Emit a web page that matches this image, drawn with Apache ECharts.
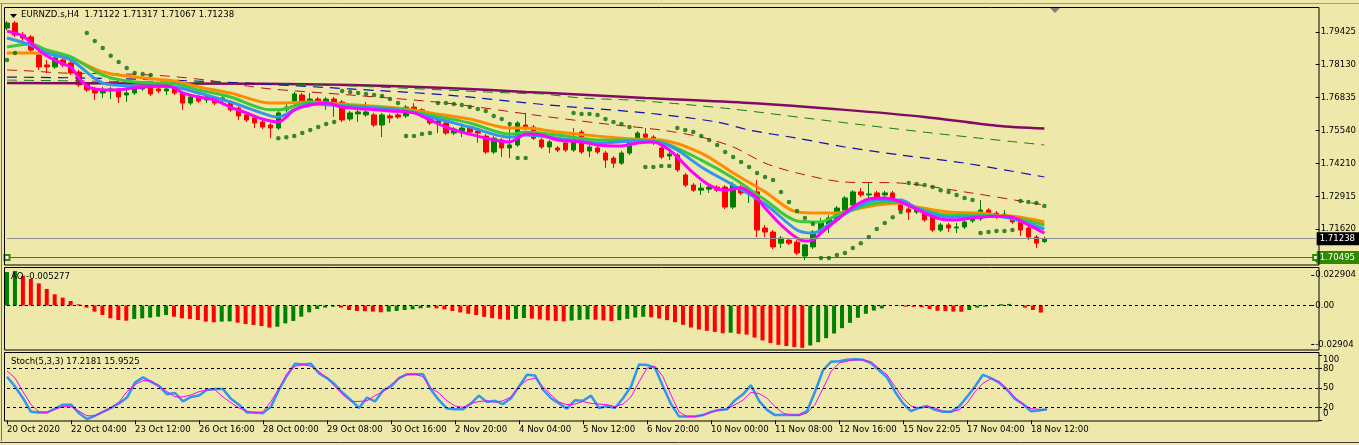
<!DOCTYPE html>
<html><head><meta charset="utf-8">
<script src="https://cdn.jsdelivr.net/npm/echarts@6/dist/echarts.min.js"></script>
<style>html,body{margin:0;padding:0;background:#EEE8AA;overflow:hidden}#c{width:1359px;height:445px;}</style>
</head><body><div id="c"></div>
<script>
const FONT = '"DejaVu Sans Condensed","Liberation Sans",sans-serif';
const slotCount = 165;
const tickEvery = 8;
const tickLabels = ['20 Oct 2020','22 Oct 04:00','23 Oct 12:00','26 Oct 16:00','28 Oct 00:00','29 Oct 08:00','30 Oct 16:00','2 Nov 20:00','4 Nov 04:00','5 Nov 12:00','6 Nov 20:00','10 Nov 00:00','11 Nov 08:00','12 Nov 16:00','15 Nov 22:05','17 Nov 04:00','18 Nov 12:00'];
const priceTicks = [1.79425,1.78130,1.76835,1.75540,1.74210,1.72915,1.71620,1.70325];
const aoTicks = [0.022904,0,-0.02904];
const aoTickLabels = ['0.022904','0.00','-0.02904'];
const stochTicks = [0,20,50,80,100];
const stochLevels = [20,50,80];
// MT4 pushes the extreme labels (0 and 100) inside the window: label anchors
const stochEdgeAt = [11,93];
const stochEdgeText = ['0','100'];

const opens = [1.7958,1.7978,1.7931,1.7923,1.7851,1.7812,1.7804,1.7832,1.7820,1.7784,1.7737,1.7717,1.7701,1.7709,1.7713,1.7693,1.7701,1.7717,1.7721,1.7717,1.7709,1.7721,1.7701,1.7661,1.7685,1.7673,1.7681,1.7673,1.7665,1.7641,1.7614,1.7602,1.7586,1.7574,1.7562,1.7634,1.7661,1.7693,1.7665,1.7677,1.7661,1.7677,1.7665,1.7598,1.7618,1.7614,1.7614,1.7574,1.7610,1.7614,1.7610,1.7645,1.7634,1.7610,1.7582,1.7582,1.7542,1.7550,1.7562,1.7550,1.7530,1.7467,1.7515,1.7483,1.7495,1.7574,1.7566,1.7515,1.7487,1.7483,1.7503,1.7475,1.7546,1.7471,1.7483,1.7463,1.7443,1.7423,1.7463,1.7507,1.7538,1.7526,1.7483,1.7451,1.7455,1.7376,1.7336,1.7316,1.7320,1.7328,1.7328,1.7249,1.7328,1.7305,1.7309,1.7166,1.7150,1.7106,1.7118,1.7110,1.7055,1.7091,1.7150,1.7182,1.7198,1.7237,1.7257,1.7309,1.7297,1.7305,1.7297,1.7305,1.7269,1.7241,1.7229,1.7229,1.7217,1.7158,1.7178,1.7166,1.7170,1.7194,1.7202,1.7237,1.7225,1.7213,1.7206,1.7190,1.7166,1.7130,1.71122];
const highs = [1.7986,1.7986,1.7943,1.7931,1.7859,1.7832,1.7848,1.7840,1.7828,1.7792,1.7744,1.7725,1.7725,1.7725,1.7721,1.7725,1.7729,1.7733,1.7729,1.7725,1.7729,1.7729,1.7709,1.7693,1.7693,1.7693,1.7689,1.7689,1.7673,1.7649,1.7622,1.7610,1.7594,1.7582,1.7630,1.7657,1.7705,1.7701,1.7701,1.7685,1.7685,1.7685,1.7673,1.7630,1.7634,1.7665,1.7622,1.7622,1.7618,1.7622,1.7653,1.7661,1.7641,1.7618,1.7598,1.7590,1.7566,1.7570,1.7570,1.7558,1.7538,1.7530,1.7522,1.7586,1.7590,1.7622,1.7574,1.7522,1.7515,1.7491,1.7511,1.7562,1.7554,1.7495,1.7491,1.7471,1.7451,1.7471,1.7511,1.7550,1.7562,1.7534,1.7491,1.7475,1.7463,1.7384,1.7344,1.7344,1.7336,1.7336,1.7336,1.7348,1.7336,1.7328,1.7356,1.7178,1.7158,1.7134,1.7126,1.7118,1.7103,1.7158,1.7206,1.7217,1.7253,1.7293,1.7316,1.7324,1.7344,1.7313,1.7313,1.7313,1.7277,1.7249,1.7245,1.7237,1.7225,1.7186,1.7186,1.7186,1.7198,1.7209,1.7277,1.7245,1.7233,1.7237,1.7213,1.7198,1.7198,1.7138,1.71317];
const lows = [1.7950,1.7923,1.7903,1.7863,1.7792,1.7780,1.7796,1.7804,1.7772,1.7725,1.7705,1.7673,1.7681,1.7677,1.7661,1.7665,1.7693,1.7709,1.7689,1.7701,1.7693,1.7693,1.7634,1.7653,1.7661,1.7661,1.7653,1.7665,1.7626,1.7594,1.7586,1.7562,1.7558,1.7522,1.7554,1.7626,1.7653,1.7657,1.7657,1.7653,1.7634,1.7606,1.7586,1.7590,1.7586,1.7606,1.7566,1.7526,1.7582,1.7598,1.7602,1.7626,1.7602,1.7574,1.7542,1.7534,1.7534,1.7526,1.7538,1.7503,1.7459,1.7459,1.7447,1.7443,1.7487,1.7554,1.7515,1.7479,1.7463,1.7467,1.7467,1.7467,1.7459,1.7447,1.7459,1.7404,1.7404,1.7416,1.7455,1.7499,1.7518,1.7495,1.7439,1.7435,1.7388,1.7328,1.7309,1.7297,1.7305,1.7309,1.7241,1.7241,1.7297,1.7265,1.7130,1.7130,1.7083,1.7087,1.7099,1.7059,1.7039,1.7083,1.7142,1.7146,1.7190,1.7229,1.7249,1.7289,1.7285,1.7281,1.7289,1.7269,1.7229,1.7198,1.7221,1.7190,1.7150,1.7150,1.7150,1.7146,1.7162,1.7186,1.7194,1.7217,1.7202,1.7206,1.7182,1.7134,1.7118,1.7087,1.71067];
const closes = [1.7978,1.7931,1.7919,1.7871,1.7804,1.7804,1.7840,1.7812,1.7780,1.7733,1.7713,1.7701,1.7709,1.7717,1.7685,1.7701,1.7721,1.7725,1.7697,1.7709,1.7717,1.7701,1.7661,1.7685,1.7669,1.7685,1.7661,1.7681,1.7634,1.7610,1.7594,1.7582,1.7566,1.7562,1.7622,1.7645,1.7697,1.7665,1.7677,1.7661,1.7677,1.7661,1.7594,1.7622,1.7626,1.7626,1.7574,1.7614,1.7602,1.7606,1.7645,1.7634,1.7610,1.7582,1.7590,1.7542,1.7558,1.7562,1.7546,1.7542,1.7467,1.7522,1.7483,1.7495,1.7582,1.7562,1.7522,1.7487,1.7507,1.7475,1.7475,1.7515,1.7467,1.7487,1.7467,1.7435,1.7423,1.7463,1.7503,1.7542,1.7526,1.7503,1.7447,1.7459,1.7396,1.7336,1.7316,1.7324,1.7328,1.7316,1.7249,1.7336,1.7305,1.7316,1.7158,1.7150,1.7091,1.7126,1.7106,1.7067,1.7099,1.7150,1.7186,1.7206,1.7245,1.7285,1.7309,1.7297,1.7301,1.7289,1.7305,1.7277,1.7237,1.7229,1.7237,1.7198,1.7158,1.7178,1.7166,1.7170,1.7190,1.7202,1.7237,1.7225,1.7209,1.7221,1.7190,1.7158,1.7130,1.7106,1.71238];

const sar = [1.7832,1.7859,null,null,null,null,null,null,null,null,
1.7939,1.7907,1.7879,1.7848,1.7824,1.7800,1.7780,1.7776,1.7772,null,
null,null,null,null,null,null,null,null,null,null,
null,null,null,null,1.7522,1.7526,1.7530,1.7542,1.7554,1.7566,
1.7578,1.7586,1.7709,1.7705,1.7701,1.7697,1.7693,1.7689,1.7677,1.7661,
1.7530,1.7530,1.7538,1.7542,1.7661,1.7661,1.7657,1.7653,1.7645,1.7637,
1.7630,1.7610,1.7598,1.7578,1.7443,1.7443,null,null,null,null,
null,1.7622,1.7618,1.7618,1.7614,1.7598,1.7586,1.7578,1.7566,null,
1.7408,1.7408,1.7412,1.7412,1.7562,1.7554,1.7546,1.7530,1.7515,1.7495,
1.7467,1.7447,1.7427,1.7408,1.7384,1.7368,1.7356,1.7309,1.7269,1.7233,
1.7206,1.7182,1.7047,1.7047,1.7059,1.7067,1.7087,1.7106,1.7130,1.7162,
1.7186,1.7209,1.7229,1.7344,1.7340,1.7336,1.7328,1.7316,1.7309,1.7297,
1.7285,1.7277,1.7146,1.7150,1.7154,1.7154,1.7158,1.7273,1.7269,1.7265,
1.7253];

const maMagenta = [[0,1.7946],[2,1.7927],[3,1.7899],[4,1.7871],[5,1.7848],[7,1.7816],[8,1.7804],[9,1.7760],[10,1.7729],[11,1.7717],[13,1.7713],[15,1.7717],[17,1.7725],[20,1.7729],[21,1.7721],[22,1.7701],[24,1.7685],[26,1.7673],[28,1.7645],[30,1.7622],[32,1.7598],[34,1.7586],[35,1.7606],[36,1.7634],[38,1.7653],[40,1.7661],[42,1.7645],[45,1.7637],[48,1.7630],[51,1.7622],[53,1.7594],[55,1.7566],[57,1.7546],[59,1.7530],[61,1.7515],[63,1.7507],[64,1.7522],[65,1.7538],[67,1.7534],[69,1.7515],[72,1.7507],[74,1.7495],[77,1.7491],[79,1.7503],[81,1.7507],[83,1.7475],[84,1.7447],[86,1.7384],[88,1.7336],[90,1.7316],[92,1.7324],[93,1.7309],[94,1.7285],[95,1.7245],[97,1.7178],[99,1.7126],[100,1.7114],[101,1.7118],[102,1.7146],[104,1.7198],[106,1.7249],[108,1.7281],[110,1.7285],[112,1.7269],[115,1.7225],[117,1.7202],[119,1.7198],[121,1.7206],[124,1.7213],[126,1.7209],[128,1.7178],[130,1.7146]];
const maBlue = [[0,1.7919],[3,1.7891],[5,1.7859],[8,1.7832],[12,1.7740],[16,1.7729],[21,1.7725],[24,1.7701],[28,1.7665],[33,1.7610],[34,1.7606],[36,1.7634],[38,1.7657],[42,1.7649],[49,1.7634],[53,1.7606],[58,1.7566],[63,1.7526],[65,1.7534],[69,1.7522],[74,1.7503],[79,1.7511],[82,1.7503],[84,1.7475],[87,1.7408],[91,1.7336],[95,1.7261],[99,1.7158],[101,1.7146],[102,1.7158],[104,1.7202],[107,1.7257],[109,1.7277],[112,1.7277],[114,1.7245],[118,1.7209],[122,1.7213],[124,1.7213],[127,1.7194],[130,1.7162]];
const maGreen = [[0,1.7883],[3,1.7895],[5,1.7871],[8,1.7844],[12,1.7772],[16,1.7744],[21,1.7737],[24,1.7713],[28,1.7685],[33,1.7634],[34,1.7634],[38,1.7665],[42,1.7653],[49,1.7637],[53,1.7614],[58,1.7582],[63,1.7538],[65,1.7546],[69,1.7534],[74,1.7515],[79,1.7515],[82,1.7507],[87,1.7435],[91,1.7364],[95,1.7277],[99,1.7194],[102,1.7190],[104,1.7217],[107,1.7249],[109,1.7265],[112,1.7269],[114,1.7245],[118,1.7217],[122,1.7217],[124,1.7213],[127,1.7202],[130,1.7178]];
const maOrange = [[0,1.7859],[3,1.7859],[5,1.7859],[8,1.7840],[12,1.7784],[16,1.7764],[21,1.7748],[24,1.7725],[28,1.7701],[33,1.7661],[34,1.7661],[38,1.7665],[42,1.7657],[49,1.7641],[53,1.7622],[58,1.7598],[63,1.7562],[65,1.7562],[69,1.7546],[74,1.7530],[79,1.7518],[82,1.7515],[87,1.7463],[91,1.7384],[95,1.7309],[99,1.7229],[102,1.7225],[104,1.7225],[107,1.7245],[109,1.7257],[112,1.7265],[114,1.7249],[118,1.7229],[122,1.7225],[124,1.7217],[127,1.7209],[130,1.7190]];
const maRedDash = [[0,1.7792],[3,1.7788],[7,1.7780],[15,1.7776],[20,1.7768],[25,1.7752],[30,1.7729],[33,1.7717],[43,1.7693],[55,1.7661],[66,1.7614],[74,1.7582],[82,1.7554],[87,1.7526],[91,1.7487],[95,1.7423],[99,1.7384],[105,1.7348],[112,1.7344],[120,1.7309],[130,1.7257]];
const maNavyDash = [[0,1.7764],[10,1.7760],[20,1.7752],[30,1.7740],[43,1.7717],[55,1.7693],[68,1.7653],[80,1.7622],[89,1.7586],[93,1.7554],[99,1.7522],[105,1.7487],[112,1.7455],[120,1.7423],[130,1.7368]];
const maGreenDash = [[0,1.7752],[20,1.7744],[33,1.7737],[43,1.7729],[63,1.7701],[67,1.7697],[72,1.7681],[78,1.7673],[83,1.7661],[91,1.7637],[100,1.7602],[116,1.7542],[130,1.7495]];
const maPurple = [[0,1.7740],[32,1.7737],[43,1.7733],[55,1.7721],[65,1.7705],[68,1.7701],[80,1.7681],[93,1.7661],[105,1.7634],[115,1.7606],[124,1.7571],[130,1.7560]];

const ao = [0.0251,0.0259,0.0224,0.0199,0.0166,0.0124,0.0084,0.0059,0.0034,0.0009,
-0.0016,-0.0046,-0.0071,-0.0096,-0.0109,-0.0114,-0.0101,-0.0096,-0.0091,-0.0084,
-0.0071,-0.0084,-0.0096,-0.0101,-0.0109,-0.0121,-0.0126,-0.0121,-0.0119,-0.0129,
-0.0139,-0.0146,-0.0154,-0.0166,-0.0159,-0.0134,-0.0116,-0.0084,-0.0051,-0.0026,
-0.0016,-0.0009,-0.0016,-0.0034,-0.0041,-0.0043,-0.0046,-0.0051,-0.0046,-0.0041,
-0.0034,-0.0029,-0.0021,-0.0016,-0.0021,-0.0029,-0.0041,-0.0052,-0.0062,-0.0072,
-0.0085,-0.0095,-0.0102,-0.0107,-0.0101,-0.0094,-0.0098,-0.0105,-0.0111,-0.0116,
-0.0119,-0.0113,-0.0108,-0.0104,-0.0107,-0.0112,-0.0117,-0.0110,-0.0100,-0.0090,
-0.0085,-0.0088,-0.0097,-0.0110,-0.0125,-0.0145,-0.0165,-0.0180,-0.0190,-0.0198,
-0.0208,-0.0204,-0.0212,-0.0218,-0.0240,-0.0262,-0.0282,-0.0295,-0.0304,-0.0312,
-0.0318,-0.0300,-0.0275,-0.0245,-0.0210,-0.0170,-0.0130,-0.0092,-0.0062,-0.0038,
-0.0022,-0.0001,-0.0003,-0.0009,-0.0010,-0.0013,-0.0026,-0.0040,-0.0042,-0.0046,
-0.0047,-0.0034,-0.0016,-0.0009,-0.0003,0.0010,0.0012,-0.0003,-0.0016,-0.0034,
-0.005277];

const stochK = [67,52,34,13,12,12,18,24,24,11,2,7,13,19,26,35,58,66,59,53,40,42,29,36,38,47,48,48,33,24,12,12,11,21,47,69,87,86,87,72,65,55,42,31,19,35,29,46,52,65,71,71,71,47,31,18,17,17,26,38,28,30,25,34,52,70,69,47,34,26,18,31,30,38,19,22,19,34,52,86,85,81,52,25,6,6,6,8,13,16,17,31,40,54,30,16,8,8,8,8,14,44,77,90,91,93,94,93,88,77,66,44,26,14,19,22,16,13,13,21,36,52,70,65,58,47,33,25,14,15,17.2181];
const stochD = [76,65,44,24,13,12,17,21,21,14,7,7,13,19,28,44,55,61,61,52,44,36,36,39,44,47,47,36,27,19,14,11,13,29,49,72,83,86,83,75,65,52,39,29,29,30,38,44,55,65,70,71,67,49,42,30,22,20,26,29,30,28,30,36,52,62,65,52,39,28,24,25,29,26,25,24,21,25,36,59,80,83,67,39,13,6,6,8,12,16,17,24,31,43,41,34,21,11,8,8,11,24,49,75,88,91,93,93,90,80,70,52,34,22,19,21,19,14,13,16,26,44,57,64,60,49,35,24,18,17,15.9525];

const slots = Array.from({length: slotCount}, (_, i) => String(i));
const candleData = opens.map((o, i) => [o, closes[i], lows[i], highs[i]]);
const aoData = ao.map((v, i) => ({value: v, itemStyle: {color: (i === 0 || v > ao[i-1]) ? '#008000' : '#ff0000'}}));
const sarData = sar.map((v, i) => v == null ? [i, '-'] : [i, v]);
const isTick = (idx) => idx % tickEvery === 0 && idx / tickEvery < tickLabels.length;
const nearestIn = (arr, v) => { let b = 0; arr.forEach((t, k) => { if (Math.abs(t - v) < Math.abs(arr[b] - v)) b = k; }); return b; };

const axisFont = {fontFamily: FONT, fontSize: 9.5, color: '#000', hideOverlap: false};
const lineS = (data, color, width, type, z) => ({type: 'line', xAxisIndex: 0, yAxisIndex: 0, data, symbol: 'none', smooth: 0.3, z: z,
  lineStyle: {color, width, type: type || 'solid'}, silent: true});
const priceBox = (txt, bg) => ({show: true, position: 'end', formatter: txt, backgroundColor: bg, color: '#fff', padding: [2, 4, 1, 3], distance: 1, fontSize: 9.5, fontFamily: FONT});

const chart = echarts.init(document.getElementById('c'), null, {renderer: 'canvas'});
chart.setOption({
  animation: false,
  backgroundColor: '#EEE8AA',
  textStyle: {fontFamily: FONT},
  title: [
    {text: 'EURNZD.s,H4  1.71122 1.71317 1.71067 1.71238', left: 21, top: 10, padding: 0, textStyle: {fontSize: 9.5, fontWeight: 'normal', color: '#000', fontFamily: FONT}},
    {text: 'AO -0.005277', left: 11, top: 272, padding: 0, textStyle: {fontSize: 9.5, fontWeight: 'normal', color: '#000', fontFamily: FONT}},
    {text: 'Stoch(5,3,3) 17.2181 15.9525', left: 11, top: 357, padding: 0, textStyle: {fontSize: 9.5, fontWeight: 'normal', color: '#000', fontFamily: FONT}}
  ],
  grid: [
    {left: 7, right: 40, top: 8, height: 257},
    {left: 7, right: 40, top: 268, height: 82},
    {left: 7, right: 40, top: 355.3, height: 65}
  ],
  xAxis: [
    {type: 'category', gridIndex: 0, data: slots, boundaryGap: false, show: false},
    {type: 'category', gridIndex: 1, data: slots, boundaryGap: false, show: false},
    {type: 'category', gridIndex: 2, data: slots, boundaryGap: false,
      axisLine: {show: false},
      axisTick: {show: true, length: 4, interval: (idx) => isTick(idx), lineStyle: {color: '#000'}},
      axisLabel: Object.assign({interval: (idx) => isTick(idx), formatter: (v, idx) => tickLabels[idx / tickEvery], align: 'left', margin: 4}, axisFont),
      splitLine: {show: false}}
  ],
  yAxis: [
    {type: 'value', gridIndex: 0, position: 'right', min: 1.70194, max: 1.80376, splitLine: {show: false}, axisLine: {show: false},
      axisTick: {show: true, length: 4, customValues: priceTicks, lineStyle: {color: '#000'}},
      axisLabel: Object.assign({customValues: priceTicks, formatter: (v) => v.toFixed(5), margin: 5}, axisFont)},
    {type: 'value', gridIndex: 1, position: 'right', min: -0.033375, max: 0.028125, splitLine: {show: false}, axisLine: {show: false},
      axisTick: {show: true, length: 3, customValues: aoTicks, lineStyle: {color: '#000'}},
      axisLabel: Object.assign({customValues: aoTicks, formatter: (v) => aoTickLabels[nearestIn(aoTicks, v)], margin: 4}, axisFont)},
    {type: 'value', gridIndex: 2, position: 'right', min: 0, max: 100, splitLine: {show: false}, axisLine: {show: false},
      axisTick: {show: true, length: 3, customValues: stochTicks, lineStyle: {color: '#000'}},
      axisLabel: Object.assign({customValues: stochLevels, margin: 4}, axisFont)},
    {type: 'value', gridIndex: 2, position: 'right', min: 0, max: 100, splitLine: {show: false}, axisLine: {show: false},
      axisTick: {show: false},
      axisLabel: Object.assign({customValues: stochEdgeAt, margin: 4,
        formatter: (v) => stochEdgeText[nearestIn(stochEdgeAt, v)]}, axisFont)}
  ],
  series: [
    {type: 'candlestick', xAxisIndex: 0, yAxisIndex: 0, data: candleData, barWidth: 5, clip: false, z: 1, silent: true,
      itemStyle: {color: '#008000', color0: '#ff0000', borderColor: '#008000', borderColor0: '#ff0000', borderWidth: 1},
      markLine: {silent: true, animation: false, symbol: ['none', 'none'], precision: 5,
        data: [{yAxis: 1.71238, lineStyle: {color: '#8c8c8c', width: 1, type: 'solid'}, label: priceBox('1.71238', '#000')}]}},
    lineS(maPurple, '#820a64', 2.5, 'solid', 3),
    lineS(maGreenDash, '#1a7a1a', 1, [10, 7], 3),
    lineS(maNavyDash, '#1010b0', 1.2, [10, 7], 3),
    lineS(maRedDash, '#c01010', 1, [10, 7], 3),
    lineS(maOrange, '#ff8c00', 3, 'solid', 4),
    lineS(maGreen, '#3cc83c', 3, 'solid', 4),
    lineS(maBlue, '#3296f0', 3, 'solid', 4),
    lineS(maMagenta, '#ff00ff', 3, 'solid', 4),
    {type: 'scatter', xAxisIndex: 0, yAxisIndex: 0, data: sarData, symbol: 'circle', symbolSize: 4.5, z: 6, silent: true,
      itemStyle: {color: '#0a6e0a'},
      markLine: {silent: true, animation: false, symbol: ['emptyRect', 'emptyRect'], symbolSize: 5, precision: 5,
        data: [{yAxis: 1.70495, lineStyle: {color: '#2e8b00', width: 1, type: 'solid'}, label: priceBox('1.70495', '#2e8b00')}]}},
    {type: 'bar', xAxisIndex: 1, yAxisIndex: 1, data: aoData, barWidth: 4, clip: false, silent: true,
      markLine: {silent: true, symbol: ['none', 'none'], data: [{yAxis: 0}], label: {show: false}, lineStyle: {color: '#000', type: [3, 3], width: 1}}},
    {type: 'line', xAxisIndex: 2, yAxisIndex: 2, data: stochK, symbol: 'none', silent: true, lineStyle: {color: '#3296f0', width: 2.5},
      markLine: {silent: true, symbol: ['none', 'none'], label: {show: false}, lineStyle: {color: '#000', type: [3, 3], width: 1},
        data: stochLevels.map(v => ({yAxis: v}))}},
    {type: 'line', xAxisIndex: 2, yAxisIndex: 2, data: stochD, symbol: 'none', silent: true, lineStyle: {color: '#ff00ff', width: 1}}
  ],
  graphic: [
    {type: 'line', shape: {x1: 0, y1: 3.5, x2: 1359, y2: 3.5}, style: {stroke: '#9a9a9a', lineWidth: 1}, z: 100, silent: true},
    {type: 'line', shape: {x1: 1.5, y1: 4, x2: 1.5, y2: 441}, style: {stroke: '#707070', lineWidth: 1}, z: 100, silent: true},
    {type: 'rect', shape: {x: 4.5, y: 7.5, width: 1314.5, height: 257.5}, style: {fill: null, stroke: '#000', lineWidth: 1}, z: 100, silent: true},
    {type: 'rect', shape: {x: 4.5, y: 267.5, width: 1314.5, height: 82.5}, style: {fill: null, stroke: '#000', lineWidth: 1}, z: 100, silent: true},
    {type: 'rect', shape: {x: 4.5, y: 352.5, width: 1314.5, height: 68.5}, style: {fill: null, stroke: '#000', lineWidth: 1}, z: 100, silent: true},
    {type: 'line', shape: {x1: 0, y1: 442.5, x2: 1359, y2: 442.5}, style: {stroke: '#404040', lineWidth: 1}, z: 100, silent: true},
    {type: 'polygon', shape: {points: [[10, 14], [17, 14], [13.5, 18]]}, style: {fill: '#000'}, z: 100, silent: true},
    {type: 'polygon', shape: {points: [[1050, 8], [1060, 8], [1055, 13]]}, style: {fill: '#808080'}, z: 100, silent: true}
  ]
});
</script></body></html>
